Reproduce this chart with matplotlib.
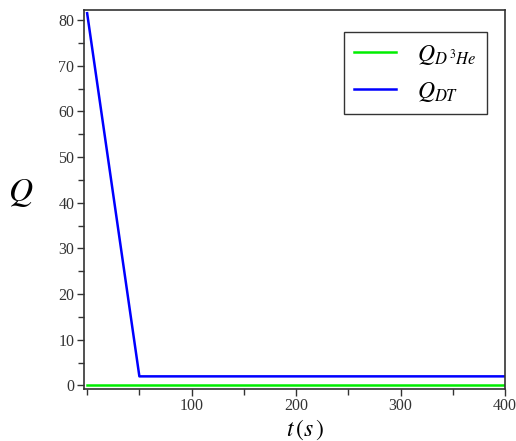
import matplotlib.pyplot as plt
from matplotlib.ticker import MultipleLocator

plt.rcParams['font.family'] = ['Liberation Serif', 'DejaVu Serif']
plt.rcParams['mathtext.fontset'] = 'stix'

# temps (s) et puissances
t = [0, 50, 400]
Q_DT = [81.5, 2.0, 2.0]
Q_D3He = [0.0, 0.0, 0.0]

fig = plt.figure(figsize=(5.16, 4.41), dpi=100)
ax = fig.add_axes([0.1628, 0.1186, 0.8159, 0.8587])

ax.plot(t, Q_D3He, color='#00ee00', lw=1.8, label=r'$Q_{D^{\,3}He}$')
ax.plot(t, Q_DT, color='#0000ff', lw=1.8, label=r'$Q_{DT}$')

ax.set_xlim(-3, 400)
ax.set_ylim(-0.7, 82.2)
ax.xaxis.set_major_locator(MultipleLocator(100))
ax.xaxis.set_minor_locator(MultipleLocator(50))
ax.yaxis.set_major_locator(MultipleLocator(10))
ax.yaxis.set_minor_locator(MultipleLocator(5))
ax.set_xticks([100, 200, 300, 400])

ax.tick_params(which='both', direction='out', color='#333333', width=1,
               labelsize=11.5, labelcolor='#333333', pad=2)
ax.tick_params(which='major', length=5)
ax.tick_params(which='minor', length=4)
for s in ax.spines.values():
    s.set_color('#333333')
    s.set_linewidth(1.2)

ax.set_xlabel(r'$t\,(s\,)$', fontsize=17, labelpad=0)
ax.xaxis.set_label_coords(0.525, -0.075)
ax.set_ylabel(r'$Q$', fontsize=24, rotation=0)
ax.yaxis.set_label_coords(-0.15, 0.475)

leg = ax.legend(loc='upper right', bbox_to_anchor=(0.957, 0.942),
                bbox_transform=ax.transAxes, fancybox=False, fontsize=17,
                handlelength=1.75, handletextpad=0.9, labelspacing=0.55,
                borderpad=0.45, borderaxespad=0, framealpha=1)
leg.get_frame().set_edgecolor('#333333')
leg.get_frame().set_linewidth(1.0)

fig.savefig('out.png', dpi=100)
